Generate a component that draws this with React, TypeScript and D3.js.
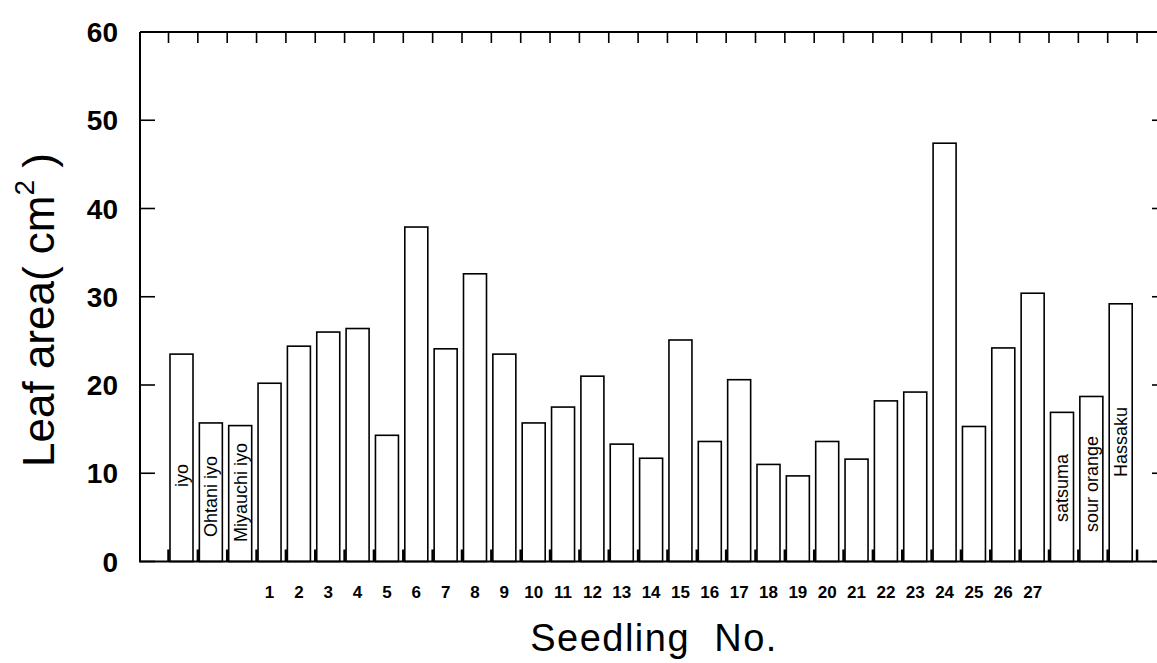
import React from "react";
import * as d3 from "d3";

const categories: string[] = [
  "iyo", "Ohtani iyo", "Miyauchi iyo",
  "1", "2", "3", "4", "5", "6", "7", "8", "9", "10",
  "11", "12", "13", "14", "15", "16", "17", "18", "19", "20",
  "21", "22", "23", "24", "25", "26", "27",
  "satsuma", "sour orange", "Hassaku",
];

const leafArea: number[] = [
  23.5, 15.7, 15.4,
  20.2, 24.4, 26.0, 26.4, 14.3, 37.9, 24.1, 32.6, 23.5, 15.7,
  17.5, 21.0, 13.3, 11.7, 25.1, 13.6, 20.6, 11.0, 9.7, 13.6,
  11.6, 18.2, 19.2, 47.4, 15.3, 24.2, 30.4,
  16.9, 18.7, 29.2,
];

// which categories are written inside the bar (rotated) instead of under it
const inBarLabels: string[] = ["iyo", "Ohtani iyo", "Miyauchi iyo", "satsuma", "sour orange", "Hassaku"];

const yTicks: number[] = [0, 10, 20, 30, 40, 50, 60];

// style: where the rotated label starts (pixel y of its bottom end)
const inBarLabelBottom: Record<string, number> = {
  "iyo": 487,
  "Ohtani iyo": 537,
  "Miyauchi iyo": 542,
  "satsuma": 522,
  "sour orange": 532,
  "Hassaku": 477,
};

const W = 1157;
const H = 663;
const left = 140;
const top = 32;
const baseY = 561.5;
const rightEdge = 1160;
const step = 29.35;
const firstTick = 168.5;
const barW = 23;

export default function App() {
  const y = d3.scaleLinear().domain([0, 60]).range([baseY, top]);
  const x = d3
    .scaleLinear()
    .domain([0, categories.length])
    .range([firstTick, firstTick + step * categories.length]);
  const tickIdx = d3.range(categories.length + 1);
  const font = "'Liberation Sans', Arial, Helvetica, sans-serif";

  return (
    <svg
      width={W}
      height={H}
      style={{ position: "absolute", left: 0, top: 0, background: "#fff" }}
    >
      <rect x={0} y={0} width={W} height={H} fill="#fff" />
      {/* bars */}
      {leafArea.map((v, i) => (
        <rect
          key={"b" + i}
          x={x(i) + 1.5}
          y={y(v)}
          width={barW}
          height={baseY - y(v)}
          fill="#fff"
          stroke="#000"
          strokeWidth={1.6}
        />
      ))}
      {/* frame */}
      <line x1={left} x2={left} y1={top} y2={baseY} stroke="#000" strokeWidth={2} />
      <line x1={left} x2={rightEdge} y1={top} y2={top} stroke="#000" strokeWidth={2} />
      <line x1={left - 1} x2={rightEdge} y1={baseY} y2={baseY} stroke="#000" strokeWidth={2} />
      <line x1={rightEdge} x2={rightEdge} y1={top} y2={baseY} stroke="#000" strokeWidth={2} />
      {/* top ticks */}
      {tickIdx.map((k) => (
        <line key={"tt" + k} x1={x(k)} x2={x(k)} y1={top} y2={top + 11} stroke="#000" strokeWidth={1.6} />
      ))}
      {/* bottom ticks */}
      {tickIdx.map((k) => (
        <line key={"bt" + k} x1={x(k)} x2={x(k)} y1={baseY} y2={baseY - 12} stroke="#000" strokeWidth={2.5} />
      ))}
      {/* y ticks left & right */}
      {yTicks.map((t) => (
        <g key={"yt" + t}>
          <line x1={left} x2={left + 15} y1={y(t)} y2={y(t)} stroke="#000" strokeWidth={1.6} />
          <line x1={rightEdge - 8} x2={rightEdge} y1={y(t)} y2={y(t)} stroke="#000" strokeWidth={1.6} />
          <text
            x={118}
            y={y(t)}
            dy="0.36em"
            textAnchor="end"
            fontFamily={font}
            fontWeight="bold"
            fontSize={28}
            fill="#000"
          >
            {t}
          </text>
        </g>
      ))}
      {/* x category labels */}
      {categories.map((c, i) =>
        inBarLabels.includes(c) ? (
          <text
            key={"l" + i}
            transform={`translate(${x(i) + 1.5 + barW / 2},${inBarLabelBottom[c]}) rotate(-90)`}
            dy="0.36em"
            textAnchor="start"
            fontFamily={font}
            fontSize={18}
            fill="#000"
          >
            {c}
          </text>
        ) : (
          <text
            key={"l" + i}
            x={x(i) + 1.5 + barW / 2}
            y={598}
            textAnchor="middle"
            fontFamily={font}
            fontWeight="bold"
            fontSize={17}
            fill="#000"
          >
            {c}
          </text>
        )
      )}
      {/* axis titles */}
      <text
        x={654}
        y={651}
        textAnchor="middle"
        fontFamily={font}
        fontSize={38}
        letterSpacing={1.5}
        fill="#000"
        style={{ whiteSpace: "pre" }}
      >
        {"Seedling  No."}
      </text>
      <text
        transform={`translate(54,310) rotate(-90)`}
        textAnchor="middle"
        fontFamily={font}
        fontSize={44}
        fill="#000"
        style={{ whiteSpace: "pre" }}
      >
        {"Leaf area( cm"}
        <tspan dy={-20} fontSize={28}>2</tspan>
        <tspan dy={20}>{" )"}</tspan>
      </text>
    </svg>
  );
}
